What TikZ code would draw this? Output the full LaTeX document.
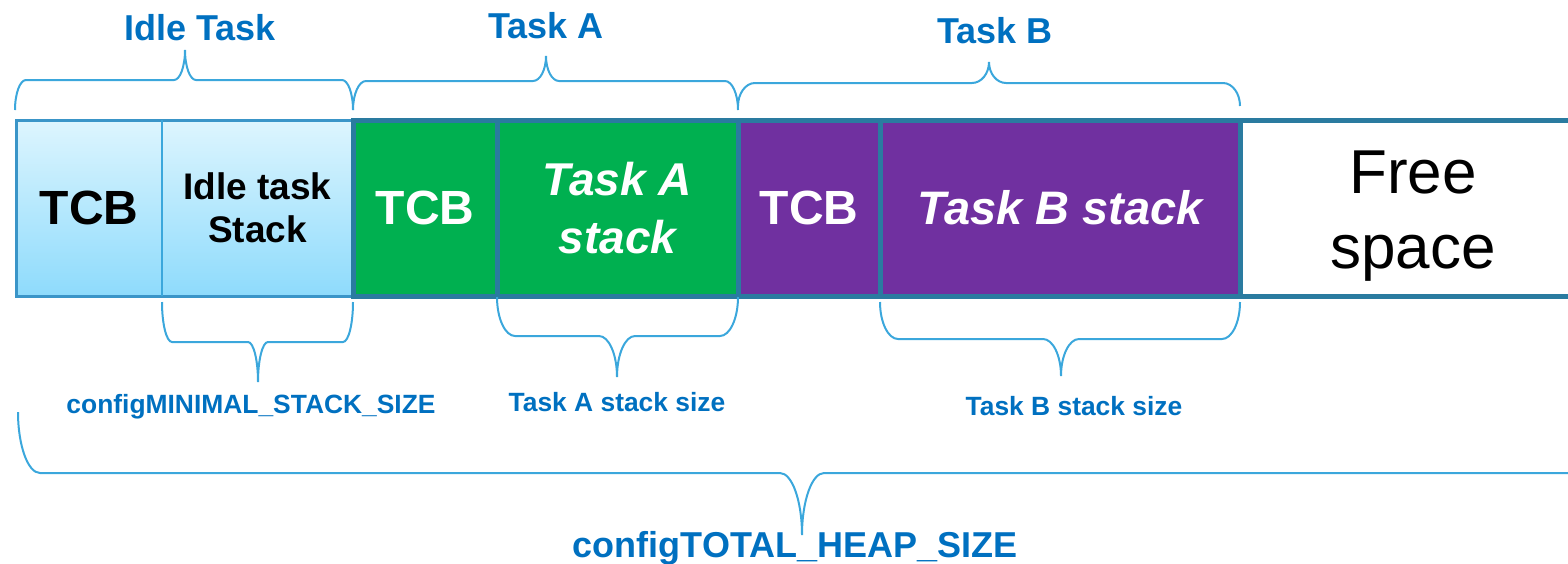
\documentclass[tikz,border=0pt]{standalone}
\usepackage{fontspec}
\setmainfont{Liberation Sans}
\usetikzlibrary{positioning}
\definecolor{labelblue}{HTML}{0070C0}
\definecolor{bracecol}{HTML}{3BA7DC}
\definecolor{bordercol}{HTML}{2A7BA0}
\definecolor{idleborder}{HTML}{3A95C8}
\definecolor{idletop}{HTML}{DDF5FE}
\definecolor{idlebottom}{HTML}{8EDBFC}
\definecolor{taskagreen}{HTML}{00B050}
\definecolor{taskbpurple}{HTML}{7030A0}
% curly brace: x1, x2, xtip, yend, ymid, ytip, radius
\newcommand{\membrace}[7]{%
  \draw[bracestyle] (#1,#4) .. controls ({#1},{#4+0.55*(#5-#4)}) and ({#1+0.45*#7},#5) .. ({#1+#7},#5)
    -- ({#3-#7},#5) .. controls ({#3-0.45*#7},#5) and ({#3},{#5+0.45*(#6-#5)}) .. (#3,#6)
    .. controls ({#3},{#5+0.45*(#6-#5)}) and ({#3+0.45*#7},#5) .. ({#3+#7},#5)
    -- ({#2-#7},#5) .. controls ({#2-0.45*#7},#5) and ({#2},{#4+0.55*(#5-#4)}) .. (#2,#4);}

\begin{document}
\begin{tikzpicture}[x=0.5pt, y=-0.5pt,
	bracestyle/.style={bracecol, line width=1pt},
	block/.style={minimum height=88pt, inner sep=0pt, outer sep=0pt, align=center,
		font=\bfseries\fontsize{24}{28}\selectfont},
	idleblock/.style={block, top color=idletop, bottom color=idlebottom},
	taskblock/.style={block, draw=bordercol, line width=2.5pt, text=white},
	biglabel/.style={anchor=base, text=labelblue, font=\bfseries\fontsize{18}{21}\selectfont},
	smalllabel/.style={anchor=base, text=labelblue, font=\bfseries\fontsize{13.2}{16}\selectfont}]
	
	\useasboundingbox (0,0) rectangle (1568,563);
	
	% Idle task memory
	\node[idleblock, minimum width=73pt] (idletcb) at (89,208) {TCB};
	\node[idleblock, minimum width=95.5pt, right=0pt of idletcb,
		font=\bfseries\fontsize{18.5}{21.5}\selectfont] (idlestack) {Idle task\\Stack};
	\draw[idleborder, line width=1.5pt] (idletcb.north west) rectangle (idlestack.south east);
	\draw[bracecol, line width=1pt] (idletcb.north east) -- (idletcb.south east);
	
	% Task A and Task B memory
	\node[taskblock, fill=taskagreen, minimum width=72pt, right=0pt of idlestack] (atcb) {TCB};
	\node[taskblock, fill=taskagreen, minimum width=120.5pt, right=0pt of atcb,
		font=\bfseries\itshape\fontsize{23}{29}\selectfont] (astack) {Task A\\stack};
	\node[taskblock, fill=taskbpurple, minimum width=71pt, right=0pt of astack] (btcb) {TCB};
	\node[taskblock, fill=taskbpurple, minimum width=180pt, right=0pt of btcb,
		font=\bfseries\itshape\fontsize{23.5}{28}\selectfont] (bstack) {Task B stack};
	\node[taskblock, fill=white, minimum width=173pt, right=0pt of bstack] (free) {};
	\node[align=center, font=\fontsize{31}{37.5}\selectfont, yshift=-4pt] (freetext) at (free) {Free\\space};
	
	% Braces above
	\membrace{15}{353}{185}{110}{80}{50}{11}
	\membrace{353}{738}{546}{110}{81}{56}{13}
	\membrace{738}{1240}{989}{106}{83}{62}{17}
	\node[biglabel] (idlelbl) at (200,40) {Idle Task};
	\node[biglabel] (alabel) at (546,38) {Task A};
	\node[biglabel] (blabel) at (995,43) {Task B};
	
	% Braces below
	\membrace{162}{353}{258}{302}{342}{382}{10}
	\membrace{497}{738}{617}{297}{336}{377}{18}
	\membrace{880}{1240}{1061}{302}{339}{376}{18}
	\membrace{18}{1590}{802}{412}{473}{535}{22}
	\node[smalllabel] (minsize) at (251,413) {configMINIMAL\_STACK\_SIZE};
	\node[smalllabel] (asize) at (617,411) {Task A stack size};
	\node[smalllabel] (bsize) at (1074,415) {Task B stack size};
	\node[biglabel] (heapsize) at (795,557) {configTOTAL\_HEAP\_SIZE};
	
\end{tikzpicture}
\end{document}
